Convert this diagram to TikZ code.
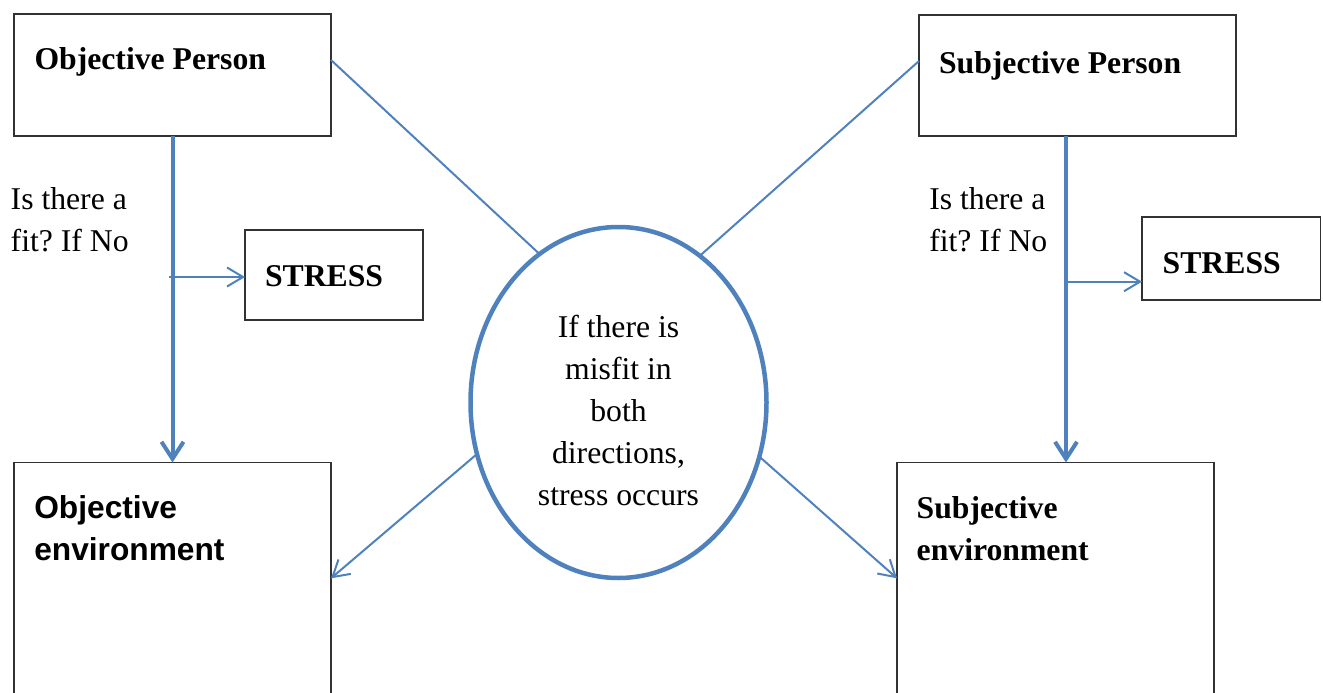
\documentclass[tikz,border=0pt]{standalone}
\usepackage{fontspec}
\setmainfont{Liberation Serif}
\newfontfamily\arialfont{Liberation Sans}
\usetikzlibrary{arrows.meta,shapes.geometric,calc}
\frenchspacing

\definecolor{linkblue}{RGB}{79,129,189}
\definecolor{boxgray}{RGB}{50,50,50}

\tikzset{
  box/.style={draw=boxgray, line width=1.4pt, rectangle, inner sep=0pt, outer sep=0pt},
  txt/.style={inner sep=0pt, outer sep=0pt, font=\fontsize{31.7}{42}\selectfont},
  btxt/.style={txt, font=\fontsize{31.7}{42}\selectfont\bfseries},
  stxt/.style={txt, font=\fontsize{31.7}{42}\selectfont\arialfont\bfseries},
  mainflow/.style={draw=linkblue, line width=4pt, -{Straight Barb[length=17pt,width=22pt]}},
  sideflow/.style={draw=linkblue, line width=2pt, -{Straight Barb[length=16pt,width=19pt]}},
  plainlink/.style={draw=linkblue, line width=2pt},
}

\begin{document}
\begin{tikzpicture}[x=1pt, y=-1pt]
  \useasboundingbox (0,0) rectangle (1323,693);

  % boxes
  \node[box, minimum width=317pt, minimum height=122pt] (op) at (172.5,75) {};
  \node[box, minimum width=317pt, minimum height=121pt] (sp) at (1077.5,75.5) {};
  \node[box, minimum width=178pt, minimum height=90pt] (s1) at (334,275) {};
  \node[box, minimum width=178.5pt, minimum height=83pt] (s2) at (1231.25,258.5) {};
  \node[box, minimum width=317pt, minimum height=257.5pt] (oe) at (172.5,591.25) {};
  \node[box, minimum width=317pt, minimum height=257.5pt] (se) at (1055.5,591.25) {};
  \node[draw=linkblue, line width=4.5pt, ellipse, inner sep=0pt, outer sep=0pt,
        minimum width=296pt, minimum height=351pt] (ell) at (618.5,402.5) {};

  % labels (multi-line nodes are anchored at the baseline of their last line)
  \node[btxt, anchor=base west] (opt) at (34.5,70) {Objective Person};
  \node[btxt, anchor=base west] (spt) at (939,73.3) {Subjective Person};
  \node[txt, anchor=base west, align=left] (q1) at (10.7,251.7) {Is there a\\fit? If No};
  \node[txt, anchor=base west, align=left] (q2) at (929.3,251.7) {Is there a\\fit? If No};
  \node[btxt, anchor=base west] (s1t) at (265,286.7) {STRESS};
  \node[btxt, anchor=base west] (s2t) at (1162.7,273.3) {STRESS};
  \node[stxt, anchor=base west, align=left] (oet) at (34.3,560) {Objective\\environment};
  \node[btxt, anchor=base west, align=left] (set) at (916.7,560) {Subjective\\environment};
  \node[txt, anchor=base, align=center] (ellt) at (618.5,505) {If there is\\misfit in\\both\\directions,\\stress occurs};

  % connectors
  \coordinate (xr) at (1066,0);
  \coordinate (h1) at (169,277);
  \coordinate (h2) at (1066,281.7);

  \draw[mainflow] (op.south) -- (oe.north);
  \draw[mainflow] (sp.south -| xr) -- (se.north -| xr);
  \draw[sideflow] (h1) -- (h1 -| s1.west);
  \draw[sideflow] (h2) -- (h2 -| s2.west);

  \draw[plainlink] ([yshift=15pt]op.east) -- (ell.118);
  \draw[plainlink] ([yshift=14.5pt]sp.west) -- (ell.61);
  \draw[sideflow] (ell.200) -- ([yshift=-115.8pt]oe.north east);
  \draw[sideflow] (ell.339.4) -- ([yshift=-115.8pt]se.north west);
\end{tikzpicture}
\end{document}
